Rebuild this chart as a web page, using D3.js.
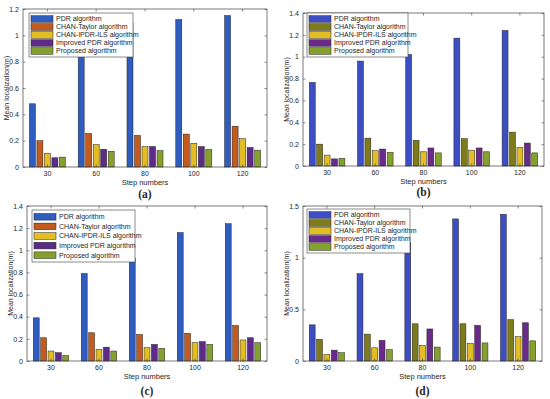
<!DOCTYPE html>
<meta charset="utf-8">
<title>Mean localization error by step numbers</title>
<style>
    body {
        margin: 0;
        background: #fff;
    }
    text {
        font-family: "Liberation Sans", Arial, sans-serif;
        fill: #262626;
    }
    .panel-label {
        font-family: "Liberation Serif", "DejaVu Serif", serif;
        font-weight: bold;
        font-size: 11.5px;
    }
</style>
<body>
<div id="chart"></div>
<script src="https://cdn.jsdelivr.net/npm/d3@7"></script>
<script>
// categories and series
var steps = ["30", "60", "80", "100", "120"];
var algorithms = ["PDR algorithm", "CHAN-Taylor algorithm", "CHAN-IPDR-ILS algorithm",
    "Improved PDR algorithm", "Proposed algorithm"];

// values per algorithm (rows) and step (columns)
var valuesA = [
    [0.48, 0.97, 1.09, 1.12, 1.15],
    [0.20, 0.255, 0.24, 0.25, 0.31],
    [0.105, 0.17, 0.155, 0.18, 0.215],
    [0.07, 0.135, 0.155, 0.155, 0.148],
    [0.075, 0.12, 0.125, 0.133, 0.128]
];
var valuesB = [
    [0.765, 0.96, 1.02, 1.17, 1.24],
    [0.20, 0.255, 0.235, 0.25, 0.31],
    [0.10, 0.14, 0.13, 0.145, 0.17],
    [0.065, 0.155, 0.165, 0.165, 0.21],
    [0.07, 0.125, 0.12, 0.13, 0.12]
];
var valuesC = [
    [0.39, 0.79, 0.93, 1.16, 1.24],
    [0.21, 0.255, 0.24, 0.25, 0.32],
    [0.09, 0.105, 0.12, 0.165, 0.19],
    [0.075, 0.125, 0.15, 0.175, 0.21],
    [0.05, 0.09, 0.115, 0.15, 0.165]
];
var valuesD = [
    [0.35, 0.845, 1.15, 1.375, 1.42],
    [0.21, 0.26, 0.36, 0.36, 0.40],
    [0.064, 0.128, 0.15, 0.17, 0.235],
    [0.105, 0.20, 0.31, 0.345, 0.37],
    [0.08, 0.11, 0.135, 0.175, 0.195]
];
var ticksA = [0, 0.2, 0.4, 0.6, 0.8, 1, 1.2];
var ticksB = [0, 0.2, 0.4, 0.6, 0.8, 1, 1.2, 1.4];
var ticksD = [0, 0.5, 1, 1.5];

var colorsAC = ["#2e5cbf", "#c35a1e", "#e3bd24", "#5e2b86", "#86a02e"];
var colorsBD = ["#3d4ec4", "#7d7b1c", "#e3bd24", "#6a2a8c", "#86a02e"];

var width = 550, height = 399;

var svg = d3.select("#chart").append("svg")
    .attr("width", width)
    .attr("height", height);

// one entry per subplot: axes box, legend box, label
var panels = [
    {values: valuesA, ticks: ticksA, ymax: 1.2, colors: colorsAC, label: "(a)",
        x0: 23, x1: 267, y0: 9, y1: 167, lg: [29, 13, 104, 44], labelY: 198},
    {values: valuesB, ticks: ticksB, ymax: 1.4, colors: colorsBD, label: "(b)",
        x0: 303, x1: 544, y0: 13, y1: 166, lg: [307, 13, 101, 44], labelY: 196},
    {values: valuesC, ticks: ticksB, ymax: 1.4, colors: colorsAC, label: "(c)",
        x0: 27, x1: 267, y0: 206, y1: 361, lg: [32, 210, 103, 52], labelY: 395},
    {values: valuesD, ticks: ticksD, ymax: 1.5, colors: colorsBD, label: "(d)",
        x0: 303, x1: 542, y0: 206, y1: 361, lg: [307, 209, 103, 44], labelY: 395}
];

panels.forEach(function(p) {
    var g = svg.append("g");

    var x = d3.scaleBand()
        .domain(steps)
        .range([p.x0, p.x1])
        .paddingInner(0.231)
        .paddingOuter(0.1155);

    var xs = d3.scaleBand()
        .domain(algorithms)
        .range([0, x.bandwidth()])
        .paddingInner(0.2)
        .paddingOuter(0.1);

    var y = d3.scaleLinear()
        .domain([0, p.ymax])
        .range([p.y1, p.y0]);

    var color = d3.scaleOrdinal().domain(algorithms).range(p.colors);

    // bars
    var rows = [];
    algorithms.forEach(function(a, i) {
        steps.forEach(function(s, j) {
            rows.push({alg: a, step: s, value: p.values[i][j]});
        });
    });

    g.selectAll(".bar")
        .data(rows)
        .enter()
        .append("rect")
        .attr("class", "bar")
        .attr("x", function(d) { return x(d.step) + xs(d.alg); })
        .attr("width", xs.bandwidth())
        .attr("y", function(d) { return y(d.value); })
        .attr("height", function(d) { return y(0) - y(d.value); })
        .attr("fill", function(d) { return color(d.alg); })
        .attr("stroke", "#222")
        .attr("stroke-width", 0.5);

    // axes with inward ticks, box on
    var axisCol = "#404040";
    var yAxis = g.append("g")
        .attr("transform", "translate(" + p.x0 + ",0)")
        .call(d3.axisLeft(y).tickValues(p.ticks).tickSize(-2.5).tickPadding(4)
            .tickFormat(d3.format("~g")));
    var yAxisR = g.append("g")
        .attr("transform", "translate(" + p.x1 + ",0)")
        .call(d3.axisRight(y).tickValues(p.ticks).tickSize(-2.5).tickFormat(""));
    var xAxis = g.append("g")
        .attr("transform", "translate(0," + p.y1 + ")")
        .call(d3.axisBottom(x).tickSize(-2.5).tickPadding(4));
    var xAxisT = g.append("g")
        .attr("transform", "translate(0," + p.y0 + ")")
        .call(d3.axisTop(x).tickSize(-2.5).tickFormat(""));

    [yAxis, yAxisR, xAxis, xAxisT].forEach(function(ax) {
        ax.select(".domain").remove();
        ax.selectAll("line").attr("stroke", axisCol).attr("stroke-width", 0.6);
        ax.selectAll("text").attr("font-size", 7).attr("font-family", "Liberation Sans, Arial, sans-serif")
            .attr("fill", "#262626");
    });

    g.append("rect")
        .attr("x", p.x0)
        .attr("y", p.y0)
        .attr("width", p.x1 - p.x0)
        .attr("height", p.y1 - p.y0)
        .attr("fill", "none")
        .attr("stroke", axisCol)
        .attr("stroke-width", 0.7);

    // axis titles
    g.append("text")
        .attr("x", (p.x0 + p.x1) / 2)
        .attr("y", p.y1 + 17.5)
        .attr("text-anchor", "middle")
        .attr("font-size", 7.5)
        .text("Step numbers");

    g.append("text")
        .attr("transform", "translate(" + (p.x0 - 14) + "," + ((p.y0 + p.y1) / 2) + ") rotate(-90)")
        .attr("text-anchor", "middle")
        .attr("font-size", 7)
        .text("Mean localization(m)");

    g.append("text")
        .attr("class", "panel-label")
        .attr("x", (p.x0 + p.x1) / 2)
        .attr("y", p.labelY)
        .attr("text-anchor", "middle")
        .text(p.label);

    // legend drawn over the bars
    var lg = g.append("g").attr("transform", "translate(" + p.lg[0] + "," + p.lg[1] + ")");
    lg.append("rect")
        .attr("width", p.lg[2])
        .attr("height", p.lg[3])
        .attr("fill", "#fff")
        .attr("stroke", axisCol)
        .attr("stroke-width", 0.6);
    var rowH = (p.lg[3] - 4) / algorithms.length;
    var items = lg.selectAll(".item")
        .data(algorithms)
        .enter()
        .append("g")
        .attr("class", "item")
        .attr("transform", function(d, i) { return "translate(0," + (2 + rowH * (i + 0.5)) + ")"; });
    items.append("rect")
        .attr("x", 2)
        .attr("y", -3.3)
        .attr("width", 22)
        .attr("height", 6.6)
        .attr("fill", function(d) { return color(d); })
        .attr("stroke", "#222")
        .attr("stroke-width", 0.5);
    items.append("text")
        .attr("x", 27)
        .attr("dy", "0.35em")
        .attr("font-size", 7)
        .text(function(d) { return d; });
});
</script>
</body>
